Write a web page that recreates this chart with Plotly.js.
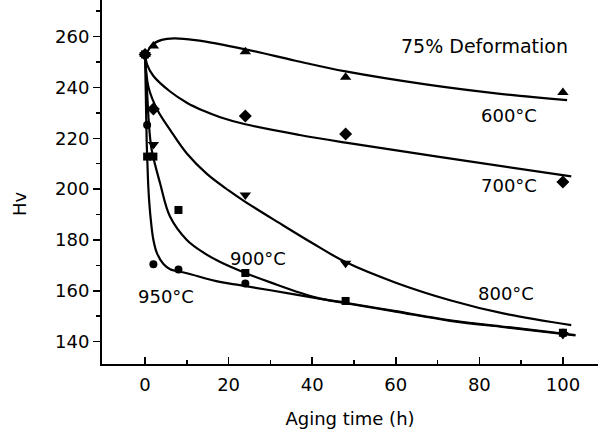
<!DOCTYPE html>
<html>
<head>
<meta charset="utf-8">
<script src="https://cdn.plot.ly/plotly-3.0.1.min.js"></script>
<style>html,body{margin:0;padding:0;background:#fff;}#chart{width:598px;height:429px;}</style>
</head>
<body>
<div id="chart"></div>
<script>
// Measured data points (aging time in h, hardness Hv)
const t600 = [0, 2, 24, 48, 100];
const hv600 = [253, 256.3, 254, 244, 238];
const t700 = [0, 2, 24, 48, 100];
const hv700 = [253, 231.5, 228.8, 221.7, 202.8];
const t800 = [0, 2, 24, 48, 100];
const hv800 = [253, 217.6, 197.7, 170.8, 142.8];
const t900 = [0, 0.5, 2, 8, 24, 48, 100];
const hv900 = [253, 212.8, 212.8, 191.8, 167, 156, 143.5];
const t950 = [0, 0.5, 2, 8, 24, 100];
const hv950 = [253, 225.2, 170.4, 168.4, 162.9, 143.5];

// Fitted curves
const fit600x = [0, 1.7, 4, 7, 12, 24, 36, 48, 68, 85, 101];
const fit600y = [252, 256.7, 258.7, 259.3, 258.6, 255, 250.5, 246.3, 241, 237.5, 235];
const fit700x = [0, 0.5, 2, 6, 10, 14, 18, 24, 37, 48, 70, 102];
const fit700y = [253, 249, 244.5, 238.4, 234, 230.8, 228.3, 225.5, 221.3, 218.3, 212.8, 205];
const fit800x = [0, 0.8, 3, 6, 10, 14.8, 20, 24, 32, 40, 48, 60, 73, 86, 102];
const fit800y = [253, 240.3, 231, 223.3, 214, 206, 199.5, 195, 186.8, 178.8, 171.3, 163.2, 156.3, 151, 146.5];
const fit900x = [0, 0.5, 1, 1.6, 3.6, 6, 10, 14, 18, 24, 30, 41, 48, 60, 73, 88, 103];
const fit900y = [253, 238, 224, 215.4, 202.3, 189.1, 180, 175, 171.3, 167, 163.3, 157.3, 155.3, 152, 148.4, 145.5, 142.6];
const fit950x = [0, 0.2, 0.4, 0.7, 1, 1.5, 2, 2.8, 4.4, 6, 10, 17.9, 22.7, 30, 41, 48, 60, 73, 88, 103];
const fit950y = [253, 236, 218, 204, 195, 186, 180, 175, 170.5, 168.5, 166.9, 163.5, 162.2, 160.2, 157.1, 155.1, 151.8, 148.2, 145.3, 142.4];

const labels = ["600°C", "700°C", "800°C", "900°C", "950°C"];
const note = "75% Deformation";
const xTitle = "Aging time (h)";
const yTitle = "Hv";

const FONT = "DejaVu Sans, Arial, sans-serif";
const black = "#000";

function curve(x, y) {
  return {x: x, y: y, mode: "lines", line: {color: black, width: 2.2, shape: "spline", smoothing: 1}, hoverinfo: "skip", showlegend: false};
}
function pts(x, y, sym, size) {
  return {x: x, y: y, mode: "markers", marker: {symbol: sym, size: size, color: black}, showlegend: false, cliponaxis: false};
}

const data = [
  curve(fit600x, fit600y), curve(fit700x, fit700y), curve(fit800x, fit800y),
  curve(fit900x, fit900y), curve(fit950x, fit950y),
  pts(t600, hv600, "triangle-up", 10),
  pts(t700, hv700, "diamond", 10),
  pts(t800, hv800, "triangle-down", 10),
  pts(t900, hv900, "square", 8),
  pts(t950, hv950, "circle", 8)
];

const ann = (text, x, y, size) => ({text: text, x: x, y: y, xref: "x", yref: "y", showarrow: false, font: {family: FONT, size: size || 18, color: black}, xanchor: "center", yanchor: "middle"});

const layout = {
  width: 598, height: 429,
  margin: {l: 102, r: 0, t: 0, b: 65},
  paper_bgcolor: "#fff", plot_bgcolor: "#fff",
  font: {family: FONT, size: 18, color: black},
  showlegend: false,
  xaxis: {
    range: [-10.3, 108.4], tickvals: [0, 20, 40, 60, 80, 100],
    ticks: "inside", ticklen: 7, tickwidth: 1.5, tickcolor: black,
    minor: {tickvals: [10, 30, 50, 70, 90], ticks: "inside", ticklen: 4, tickwidth: 1.5, tickcolor: black},
    showline: true, linecolor: black, linewidth: 2, showgrid: false, zeroline: false,
    tickfont: {family: FONT, size: 18, color: black}, ticklabelstandoff: 3,
    title: {text: xTitle, font: {family: FONT, size: 18, color: black}, standoff: 19}
  },
  yaxis: {
    range: [131.2, 274.4], tickvals: [140, 160, 180, 200, 220, 240, 260],
    ticks: "outside", ticklen: 7, tickwidth: 1.5, tickcolor: black,
    minor: {tickvals: [150, 170, 190, 210, 230, 250, 270], ticks: "outside", ticklen: 4, tickwidth: 1.5, tickcolor: black},
    showline: true, linecolor: black, linewidth: 2, showgrid: false, zeroline: false,
    tickfont: {family: FONT, size: 18, color: black}
  },
  annotations: [
    ann(note, 81.3, 256.3, 19),
    ann(labels[0], 87, 228.8),
    ann(labels[1], 87, 201.6),
    ann(labels[2], 86.4, 159.1),
    ann(labels[3], 27, 172.9),
    ann(labels[4], 5, 157.9),
    {text: yTitle, xref: "paper", yref: "paper", x: -0.165, y: 0.44, showarrow: false, textangle: -90,
     font: {family: FONT, size: 18, color: black}, xanchor: "center", yanchor: "middle"}
  ]
};

Plotly.newPlot("chart", data, layout, {staticPlot: true, displayModeBar: false});
</script>
</body>
</html>
